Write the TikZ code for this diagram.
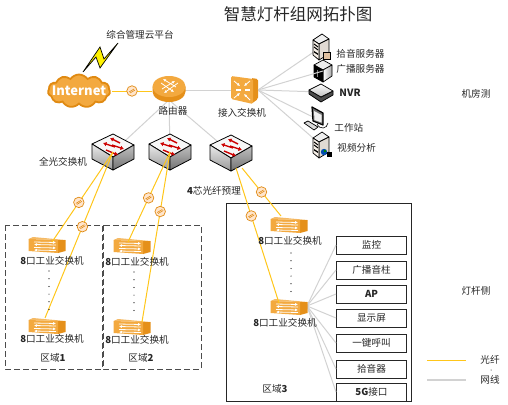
\documentclass[tikz,border=0pt]{standalone}
\usepackage{fontspec}
\setmainfont{Noto Sans CJK SC}
\usetikzlibrary{arrows.meta,shapes.symbols}
\definecolor{fibercol}{HTML}{FFC61A}
\definecolor{netcol}{HTML}{D2D2D2}
\definecolor{orgedge}{HTML}{E08A12}
\definecolor{orgfill}{HTML}{F3A93F}
\definecolor{orgside}{HTML}{E5901A}
\tikzset{
  lbl/.style={inner sep=0pt,text=black!85,font=\fontsize{9.6}{11}\selectfont},
  fiber/.style={fibercol,line width=1pt},
  netline/.style={netcol,line width=1pt},
  fibermark/.style={circle,draw=orgedge,fill=orange!20,line width=0.7pt,minimum size=10.5pt,inner sep=0pt,
    path picture={\draw[orgedge,line width=0.6pt] ([shift={(-3pt,-1pt)}]path picture bounding box.center)--([shift={(2pt,2pt)}]path picture bounding box.center);
      \draw[orgedge,line width=0.6pt] ([shift={(-2pt,-2pt)}]path picture bounding box.center)--([shift={(3pt,1pt)}]path picture bounding box.center);}},
  endbox/.style={draw=black!85,line width=1pt,fill=white,minimum width=70pt,minimum height=18pt,inner sep=0pt,text=black!85,font=\fontsize{9.6}{11}\selectfont},
  wtip/.style={white,line width=0.8pt,-{Latex[length=3pt,width=3pt]}},
  rtip/.style={red!80!black,line width=1.4pt,-{Latex[length=3.5pt,width=4.5pt]}},
  lightsw/.pic={
    \draw[black,line width=0.8pt,fill=black!3,line join=round] (-21,-8)--(0,-18)--(21,-7)--(0,5)--cycle;
    \draw[black,line width=0.8pt,top color=black!8,bottom color=black!40,line join=round] (-21,-8)--(0,5)--(0,18)--(-21,7)--cycle;
    \draw[black,line width=0.8pt,top color=black!25,bottom color=black!55,line join=round] (21,-7)--(0,5)--(0,18)--(21,7)--cycle;
    \draw[rtip] (7,-9)--(-3,-14);
    \draw[rtip] (2,-5)--(-10,-9);
    \draw[rtip] (-1,-7)--(11,-3);
    \draw[rtip] (-7,-2)--(5,3);
  },
  indsw/.pic={
    \fill[orgfill!80!white] (-18.5,-6)--(-14,-8)--(18.5,-5)--(11,-5)--cycle;
    \fill[orgside] (11,-5)--(18.5,-5)--(18.5,6)--(11,8)--cycle;
    \fill[orgfill] (-18.5,-6)--(11,-5)--(11,8)--(-18.5,6)--cycle;
    \draw[wtip] (-13,-3)--(9,-2.5);
    \draw[wtip] (9,0)--(-13,-0.5);
    \draw[wtip] (-13,2.5)--(9,3);
    \draw[wtip] (9,5.5)--(-13,5);
  },
  rtr/.pic={
    \fill[orgside] (-16.5,-3.5)--(-16.5,1.5) arc[start angle=180,end angle=360,x radius=16.5,y radius=-10.5]--(16.5,-3.5)--cycle;
    \fill[orgfill] (0,-3.5) ellipse[x radius=16.5,y radius=10.5];
    \draw[wtip] (-7,-1)--(6,-9);
    \draw[wtip] (7,-3)--(-6,-11);
    \draw[wtip] (-8,-7)--(5,2);
    \draw[wtip] (9,-7)--(-5,3);
  },
  accsw/.pic={
    \fill[orgside,rounded corners=1.5pt] (7,-12)--(14,-11)--(14,9)--(7,14)--cycle;
    \fill[orgfill,rounded corners=1.5pt] (-13,-14)--(9,-11)--(9,14)--(-13,9)--cycle;
    \draw[wtip] (-10,-9)--(-4,-4);
    \draw[wtip] (6,-9)--(0,-4);
    \draw[wtip] (-10,8)--(-4,3);
    \draw[wtip] (6,10)--(0,4);
    \draw[white,line width=1.2pt] (-8,0)--(-3,0);
    \draw[white,line width=1.2pt] (1,0)--(6,0);
  },
  srvbox/.pic={
    \draw[black,line width=0.7pt,fill=black!6,line join=round] (1,-13)--(8,-8)--(-2,-3)--(-8,-7)--cycle;
    \draw[black,line width=0.7pt,fill=black!45!brown!20,line join=round] (8,-8)--(-2,-3)--(-2,13)--(8,7)--cycle;
    \draw[black,line width=0.7pt,fill=brown!12,line join=round] (-8,-7)--(-2,-3)--(-2,13)--(-8,8)--cycle;
    \draw[black,line width=1pt] (-7,-3)--(-3,0) (-7,0)--(-3,3);
    \fill[black] (-7,4)--(-3,6.5)--(-3,8)--(-7,5.5)--cycle;
  },
  blacksrv/.pic={
    \draw[black,line width=0.7pt,fill=black!8,line join=round] (0,-11)--(9,-6)--(0,-1)--(-9,-6)--cycle;
    \draw[black,line width=0.7pt,left color=white,right color=black!35,line join=round] (9,-6)--(0,-1)--(0,11)--(9,5)--cycle;
    \draw[black,line width=0.7pt,fill=black,line join=round] (-9,-6)--(0,-1)--(0,11)--(-9,6)--cycle;
    \fill[black!50] (-6,-1) rectangle (-5,6);
  },
  nvrbox/.pic={
    \draw[black,line width=0.7pt,fill=black!70,line join=round] (-12,-2)--(0,5)--(12,-1)--(12,3)--(0,10)--(-12,2)--cycle;
    \draw[black,line width=0.7pt,top color=white,bottom color=black!25,line join=round] (-12,-2)--(0,-8)--(12,-1)--(0,5)--cycle;
  },
  wkst/.pic={
    \draw[black,line width=1.2pt,fill=black!55,line join=round] (-5,-12)--(6,-6)--(6,6)--(-4,2)--cycle;
    \fill[black!6] (-3,-8)--(4.5,-4)--(4.5,3.5)--(-2.5,1)--cycle;
    \draw[black,line width=0.6pt] (0,5) .. controls (3,11) and (10,10) .. (11,4);
    \draw[black,line width=0.7pt,fill=black!15,line join=round] (-13,4)--(-9,2)--(1,8)--(-3,11)--cycle;
  }
}
\begin{document}
\begin{tikzpicture}[x=1pt,y=-1pt,line width=0.9pt]
  \useasboundingbox (0,0) rectangle (508,404);

  \node[inner sep=0pt,text=black!85,font=\fontsize{16.5}{18}\selectfont] (title) at (298,14){智慧灯杆组网拓扑图};

  \coordinate (router) at (169,90);
  \coordinate (inetout) at (112,91);
  \coordinate (rtrin) at (152,91);
  \coordinate (rtrdn) at (169,100);
  \coordinate (acc) at (244,90);
  \coordinate (accout) at (258,90);
  \coordinate (sw1) at (113,152);
  \coordinate (sw2) at (170,152);
  \coordinate (sw3) at (231,153);
  \coordinate (out3a) at (242,168);
  \coordinate (out3b) at (236,168);
  \coordinate (srv1) at (321,47);
  \coordinate (srv2) at (323,71);
  \coordinate (nvr) at (321,92);
  \coordinate (work) at (317,119);
  \coordinate (ana) at (321,145);
  \coordinate (ind1a) at (47,245);
  \coordinate (ind1b) at (47,326);
  \coordinate (ind2a) at (132,246);
  \coordinate (ind2b) at (132,327);
  \coordinate (ind3a) at (289,225);
  \coordinate (ind3b) at (289,307);
  \coordinate (in1a) at (52,242);
  \coordinate (in1b) at (45,318);
  \coordinate (in2a) at (128,242);
  \coordinate (in2b) at (142,322);
  \coordinate (in3a) at (281,216);
  \coordinate (in3b) at (279,303);
  \coordinate (indout) at (307,306);

  % regions
  \draw[black!70,dashed,dash pattern=on 6pt off 3pt,line width=1pt] (5,225) rectangle (102,369);
  \draw[black!70,dashed,dash pattern=on 6pt off 3pt,line width=1pt] (103,225) rectangle (201,369);
  \draw[black!85,line width=1pt] (226,203) rectangle (411,401);

  \node[lbl] (zone1) at (53,358){区域\textbf{1}};
  \node[lbl] (zone2) at (141,358){区域\textbf{2}};
  \node[lbl] (zone3) at (275,389){区域\textbf{3}};

  % terminals on the pole
  \foreach \name/\ypos/\txt in {mon/245/监控,spk/270/广播音柱,ap/294/\textbf{AP},scr/318/显示屏,sos/343/一键呼叫,mic/369/拾音器,fg/392/\textbf{5G}接口}{
    \node[endbox] (\name) at (371.5,\ypos){\txt};
    \draw[netline] (indout)--(\name.west);
  }

  % gray links
  \draw[netline] (router)--(acc);
  \draw[netline] (rtrdn)--(sw1);
  \draw[netline] (rtrdn)--(sw2);
  \draw[netline] (rtrdn)--(sw3);
  \draw[netline] (accout)--(srv1);
  \draw[netline] (accout)--(nvr);
  \draw[netline] (accout)--(work);
  \draw[netline] (accout)--(ana);

  \node[cloud,cloud puffs=11,cloud puff arc=110,aspect=1.8,draw=orgedge,fill=orgfill,line width=1.8pt,minimum width=62pt,minimum height=33pt,inner sep=0pt] (inet) at (79,91){};
  \node[inner sep=0pt,text=white,font=\fontsize{13}{15}\selectfont\bfseries] (inetname) at (79,91){Internet};
  \fill[yellow,draw=black,line width=0.7pt] (83,72)--(100,47)--(104,59)--(118,43)--(100,68)--(96,57)--cycle;

  \pic at (router) {rtr};
  \pic at (acc) {accsw};
  \pic at (sw1) {lightsw};
  \pic at (sw2) {lightsw};
  \pic at (sw3) {lightsw};
  \pic at (srv1) {srvbox};
  \fill[brown!50,draw=black,line width=0.4pt] (323,52) rectangle (330,59);
  \pic at (srv2) {blacksrv};
  \draw[netline] (accout)--(srv2);
  \pic at (nvr) {nvrbox};
  \pic at (work) {wkst};
  \pic at (ana) {srvbox};
  \fill[blue!70!green] (324,152) circle (3.2);
  \fill[green!55!black] (325,151) circle (1.4);
  \fill[black] (327,152) rectangle (332,157);
  \foreach \name in {ind1a,ind1b,ind2a,ind2b,ind3a,ind3b}{
    \pic at (\name) {indsw};
  }

  % fibers
  \draw[fiber] (inetout)--node[fibermark,pos=0.5] (mk0) {} (rtrin);
  \draw[fiber] (sw1)--node[fibermark,pos=0.56] (mk1) {} (in1a);
  \draw[fiber] (sw1)--node[fibermark,pos=0.45] (mk2) {} (in1b);
  \draw[fiber] (sw2)--node[fibermark,pos=0.51] (mk3) {} (in2a);
  \draw[fiber] (sw2)--node[fibermark,pos=0.35] (mk4) {} (in2b);
  \draw[fiber] (out3a)--node[fibermark,pos=0.5] (mk5) {} (in3a);
  \draw[fiber] (out3b)--node[fibermark,pos=0.355] (mk6) {} (in3b);

  \foreach \xpos/\ystart in {49/271,134/272,291/253}{
    \foreach \k in {0,1,2,3,4,5}{
      \fill[black] (\xpos,\ystart+\k*7.7) circle (0.6);
    }
  }

  \node[lbl] (cloudname) at (140,35){综合管理云平台};
  \node[lbl] (rtrname) at (173,111){路由器};
  \node[lbl] (accname) at (242,113){接入交换机};
  \node[lbl] (swname) at (63,162){全光交换机};
  \node[lbl] (fibname) at (214,191){\textbf{4}芯光纤预理};
  \node[lbl,anchor=west] (srv1name) at (336,54){拾音服务器};
  \node[lbl,anchor=west] (srv2name) at (336,69){广播服务器};
  \node[lbl,anchor=west,font=\fontsize{10}{11}\selectfont\bfseries] (nvrname) at (339,93){NVR};
  \node[lbl,anchor=west] (workname) at (334,128){工作站};
  \node[lbl,anchor=west] (ananame) at (337,148){视频分析};
  \node[lbl] (room) at (476,94){机房测};
  \node[lbl] (pole) at (476,291){灯杆侧};

  \node[lbl] (name1a) at (52,261){\textbf{8}口工业交换机};
  \node[lbl] (name1b) at (52,339){\textbf{8}口工业交换机};
  \node[lbl] (name2a) at (137,262){\textbf{8}口工业交换机};
  \node[lbl] (name2b) at (137,340){\textbf{8}口工业交换机};
  \node[lbl] (name3a) at (290,241){\textbf{8}口工业交换机};
  \node[lbl] (name3b) at (285,323){\textbf{8}口工业交换机};

  % legend
  \coordinate (lga) at (427,360);
  \coordinate (lgb) at (466,360);
  \coordinate (lgc) at (427,380);
  \coordinate (lgd) at (466,380);
  \draw[fiber] (lga)--(lgb);
  \draw[netline,line width=1.5pt] (lgc)--(lgd);
  \node[lbl] (lgfib) at (490,360){光纤};
  \node[lbl] (lgnet) at (490,380){网线};
  \fill[black] (491,370) circle (0.5);
\end{tikzpicture}
\end{document}
